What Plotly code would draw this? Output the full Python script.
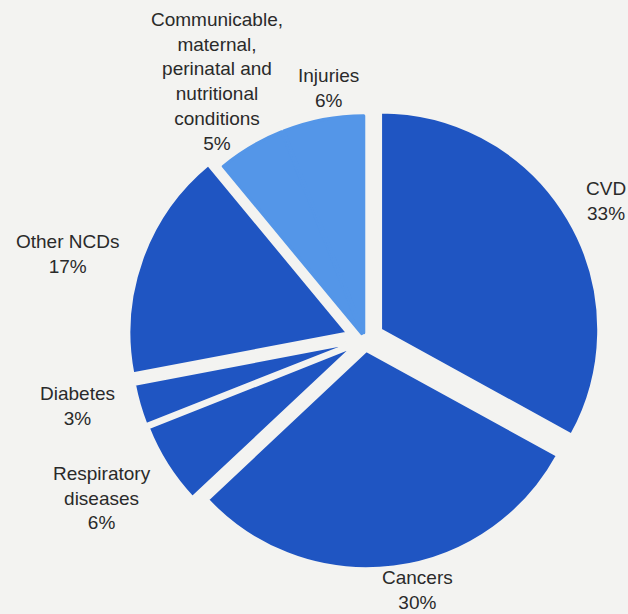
import plotly.graph_objects as go

categories = ["CVD", "Cancers", "Respiratory<br>diseases", "Diabetes", "Other NCDs",
              "Communicable,<br>maternal,<br>perinatal and<br>nutritional<br>conditions",
              "Injuries"]
shares = [33, 30, 6, 3, 17, 5, 6]

# label anchor points (pixels, from top-left) for the outside labels
label_x = [606, 417, 102, 77, 67, 217, 328]
label_y = [201, 590, 498, 406, 254, 81, 88]

W, H = 628, 614
dark = "#1f55c2"
light = "#5496e8"
bg = "#f3f3f1"
colors = [dark, dark, dark, dark, dark, light, light]
pulls = [0.086, 0.055, 0.077, 0.08, 0.09, 0.03, 0.03]
line_colors = [bg] * 5 + [light, light]
line_widths = [2, 2, 2, 2, 2, 3, 3]

fig = go.Figure(go.Pie(
    labels=categories,
    values=shares,
    sort=False,
    direction="clockwise",
    rotation=0,
    pull=pulls,
    marker=dict(colors=colors, line=dict(color=line_colors, width=line_widths)),
    textinfo="none",
    domain=dict(x=[0.2043, 0.9581], y=[0.0620, 0.8330]),
    showlegend=False,
    hoverinfo="label+percent",
))

for lab, v, x, y in zip(categories, shares, label_x, label_y):
    fig.add_annotation(
        text=f"{lab}<br>{v}%",
        x=x / W, y=1 - y / H, xref="paper", yref="paper",
        xanchor="center", yanchor="middle", showarrow=False, align="center",
        font=dict(family="Liberation Sans, Arial, sans-serif", size=19, color="#2a2a2a"),
    )

fig.update_layout(
    width=W, height=H,
    margin=dict(l=0, r=0, t=0, b=0),
    paper_bgcolor=bg,
    plot_bgcolor=bg,
    font=dict(family="Liberation Sans, Arial, sans-serif", size=19, color="#2a2a2a"),
)

fig.write_html("out.html", config={"displayModeBar": False},
               post_script="document.body.style.margin='0';document.body.style.overflow='hidden';")
